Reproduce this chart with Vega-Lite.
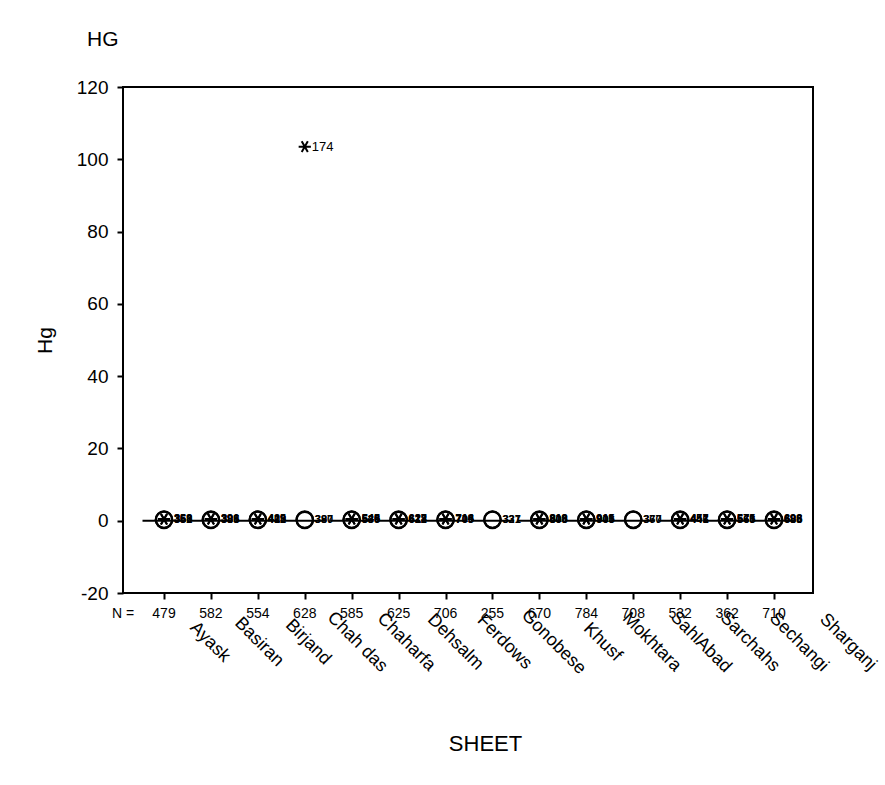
{
  "$schema": "https://vega.github.io/schema/vega-lite/v6.json",
  "width": 690,
  "height": 506,
  "autosize": "none",
  "padding": {"left": 123, "top": 87, "right": 72, "bottom": 192},
  "background": "white",
  "config": {
    "font": "Liberation Sans",
    "view": {"stroke": "black", "strokeWidth": 2},
    "axis": {"grid": false, "domain": false, "tickColor": "black", "labelColor": "black", "titleColor": "black", "tickWidth": 2}
  },
  "title": {"text": "HG", "anchor": "start", "frame": "group", "dx": -36, "offset": 28, "fontSize": 21, "fontWeight": "normal", "font": "Liberation Sans", "color": "black"},
  "datasets": {
    "groups": [
      {"sheet": "Ayask", "n": 479, "median": 0},
      {"sheet": "Basiran", "n": 582, "median": 0},
      {"sheet": "Birjand", "n": 554, "median": 0},
      {"sheet": "Chah das", "n": 628, "median": 0},
      {"sheet": "Chaharfa", "n": 585, "median": 0},
      {"sheet": "Dehsalm", "n": 625, "median": 0},
      {"sheet": "Ferdows", "n": 706, "median": 0},
      {"sheet": "Gonobese", "n": 255, "median": 0},
      {"sheet": "Khusf", "n": 670, "median": 0},
      {"sheet": "Mokhtara", "n": 784, "median": 0},
      {"sheet": "SahlAbad", "n": 708, "median": 0},
      {"sheet": "Sarchahs", "n": 532, "median": 0},
      {"sheet": "Sechangi", "n": 362, "median": 0},
      {"sheet": "Sharganj", "n": 710, "median": 0}
    ],
    "points": [
      {"sheet": "Ayask", "hg": 0.3, "kind": "outlier", "case": 352},
      {"sheet": "Ayask", "hg": 0.25, "kind": "outlier", "case": 356},
      {"sheet": "Ayask", "hg": 0.45, "kind": "extreme", "case": 359},
      {"sheet": "Ayask", "hg": 0.4, "kind": "extreme", "case": 363},
      {"sheet": "Basiran", "hg": 0.3, "kind": "outlier", "case": 385},
      {"sheet": "Basiran", "hg": 0.2, "kind": "outlier", "case": 388},
      {"sheet": "Basiran", "hg": 0.5, "kind": "extreme", "case": 391},
      {"sheet": "Basiran", "hg": 0.45, "kind": "extreme", "case": 396},
      {"sheet": "Birjand", "hg": 0.3, "kind": "outlier", "case": 408},
      {"sheet": "Birjand", "hg": 0.25, "kind": "outlier", "case": 412},
      {"sheet": "Birjand", "hg": 0.5, "kind": "extreme", "case": 419},
      {"sheet": "Birjand", "hg": 0.4, "kind": "extreme", "case": 425},
      {"sheet": "Chah das", "hg": 0.3, "kind": "outlier", "case": 387},
      {"sheet": "Chah das", "hg": 0.2, "kind": "outlier", "case": 390},
      {"sheet": "Chah das", "hg": 103.5, "kind": "extreme", "case": 174},
      {"sheet": "Chaharfa", "hg": 0.3, "kind": "outlier", "case": 536},
      {"sheet": "Chaharfa", "hg": 0.25, "kind": "outlier", "case": 539},
      {"sheet": "Chaharfa", "hg": 0.5, "kind": "extreme", "case": 545},
      {"sheet": "Chaharfa", "hg": 0.45, "kind": "extreme", "case": 548},
      {"sheet": "Dehsalm", "hg": 0.3, "kind": "outlier", "case": 612},
      {"sheet": "Dehsalm", "hg": 0.2, "kind": "outlier", "case": 618},
      {"sheet": "Dehsalm", "hg": 0.5, "kind": "extreme", "case": 623},
      {"sheet": "Dehsalm", "hg": 0.4, "kind": "extreme", "case": 627},
      {"sheet": "Ferdows", "hg": 0.3, "kind": "outlier", "case": 705},
      {"sheet": "Ferdows", "hg": 0.25, "kind": "outlier", "case": 709},
      {"sheet": "Ferdows", "hg": 0.5, "kind": "extreme", "case": 714},
      {"sheet": "Ferdows", "hg": 0.45, "kind": "extreme", "case": 718},
      {"sheet": "Gonobese", "hg": 0.3, "kind": "outlier", "case": 327},
      {"sheet": "Gonobese", "hg": 0.25, "kind": "outlier", "case": 331},
      {"sheet": "Khusf", "hg": 0.3, "kind": "outlier", "case": 806},
      {"sheet": "Khusf", "hg": 0.2, "kind": "outlier", "case": 808},
      {"sheet": "Khusf", "hg": 0.5, "kind": "extreme", "case": 813},
      {"sheet": "Khusf", "hg": 0.4, "kind": "extreme", "case": 819},
      {"sheet": "Mokhtara", "hg": 0.3, "kind": "outlier", "case": 903},
      {"sheet": "Mokhtara", "hg": 0.25, "kind": "outlier", "case": 906},
      {"sheet": "Mokhtara", "hg": 0.5, "kind": "extreme", "case": 911},
      {"sheet": "Mokhtara", "hg": 0.45, "kind": "extreme", "case": 915},
      {"sheet": "SahlAbad", "hg": 0.3, "kind": "outlier", "case": 367},
      {"sheet": "SahlAbad", "hg": 0.25, "kind": "outlier", "case": 370},
      {"sheet": "Sarchahs", "hg": 0.3, "kind": "outlier", "case": 441},
      {"sheet": "Sarchahs", "hg": 0.2, "kind": "outlier", "case": 446},
      {"sheet": "Sarchahs", "hg": 0.5, "kind": "extreme", "case": 452},
      {"sheet": "Sarchahs", "hg": 0.4, "kind": "extreme", "case": 457},
      {"sheet": "Sechangi", "hg": 0.3, "kind": "outlier", "case": 563},
      {"sheet": "Sechangi", "hg": 0.25, "kind": "outlier", "case": 566},
      {"sheet": "Sechangi", "hg": 0.5, "kind": "extreme", "case": 571},
      {"sheet": "Sechangi", "hg": 0.45, "kind": "extreme", "case": 575},
      {"sheet": "Sharganj", "hg": 0.3, "kind": "outlier", "case": 685},
      {"sheet": "Sharganj", "hg": 0.2, "kind": "outlier", "case": 688},
      {"sheet": "Sharganj", "hg": 0.5, "kind": "extreme", "case": 693},
      {"sheet": "Sharganj", "hg": 0.4, "kind": "extreme", "case": 696}
    ]
  },
  "layer": [
    {
      "encoding": {
        "x": {
          "field": "sheet", "type": "nominal", "sort": null,
          "scale": {"type": "point", "range": [41, 651], "padding": 0},
          "axis": {"labels": false, "tickSize": 6, "title": "SHEET", "titleFontSize": 22, "titleFontWeight": "normal", "titleX": 362, "titleY": 150, "titleBaseline": "middle", "titleAlign": "center"}
        }
      },
      "layer": [
        {
          "data": {"name": "groups"},
          "mark": {"type": "tick", "size": 43, "thickness": 2, "color": "black", "opacity": 1, "orient": "horizontal"},
          "encoding": {
            "y": {
              "field": "median", "type": "quantitative",
              "scale": {"domain": [-20, 120], "nice": false, "zero": false},
              "axis": {"values": [-20, 0, 20, 40, 60, 80, 100, 120], "labelExpr": "'' + datum.value", "tickSize": 6, "labelFontSize": 19, "labelPadding": 9, "title": "Hg", "titleFontSize": 21, "titleFontWeight": "normal", "titleX": -78, "titleY": 253, "titleBaseline": "middle", "titleAlign": "center"}
            }
          }
        },
        {
          "data": {"name": "points"},
          "transform": [{"filter": "datum.kind == 'outlier'"}],
          "mark": {"type": "point", "shape": "circle", "filled": false, "size": 270, "strokeWidth": 2.2, "color": "black", "opacity": 1},
          "encoding": {"y": {"field": "hg", "type": "quantitative"}}
        },
        {
          "data": {"name": "points"},
          "transform": [{"filter": "datum.kind == 'extreme'"}],
          "mark": {"type": "point", "shape": "M-1,0L1,0M-0.5,-0.87L0.5,0.87M-0.5,0.87L0.5,-0.87", "filled": false, "size": 150, "strokeWidth": 2, "color": "black", "opacity": 1},
          "encoding": {"y": {"field": "hg", "type": "quantitative"}}
        },
        {
          "data": {"name": "points"},
          "transform": [{"filter": "datum.hg < 50"}],
          "mark": {"type": "text", "align": "left", "baseline": "middle", "dx": 10, "fontSize": 11, "fontWeight": "bold", "color": "black"},
          "encoding": {"y": {"field": "hg", "type": "quantitative"}, "text": {"field": "case"}}
        },
        {
          "data": {"name": "points"},
          "transform": [{"filter": "datum.hg >= 50"}],
          "mark": {"type": "text", "align": "left", "baseline": "middle", "dx": 7, "fontSize": 13, "color": "black"},
          "encoding": {"y": {"field": "hg", "type": "quantitative"}, "text": {"field": "case"}}
        },
        {
          "data": {"name": "groups"},
          "mark": {"type": "text", "align": "center", "baseline": "middle", "fontSize": 14, "color": "black"},
          "encoding": {"y": {"datum": -25.8}, "text": {"field": "n"}}
        },
        {
          "data": {"values": [{"label": "N ="}]},
          "mark": {"type": "text", "align": "center", "baseline": "middle", "fontSize": 14, "color": "black", "dx": -41},
          "encoding": {"x": {"datum": "Ayask"}, "y": {"datum": -25.8}, "text": {"field": "label"}}
        }
      ]
    },
    {
      "data": {"name": "groups"},
      "mark": {"type": "text", "angle": 45, "align": "center", "baseline": "middle", "fontSize": 18, "color": "black"},
      "encoding": {
        "x": {"field": "sheet", "type": "nominal", "sort": null, "scale": {"type": "point", "range": [87, 725], "padding": 0}, "axis": null},
        "y": {"datum": -33.6},
        "text": {"field": "sheet"}
      }
    }
  ],
  "resolve": {"scale": {"x": "independent"}}
}
